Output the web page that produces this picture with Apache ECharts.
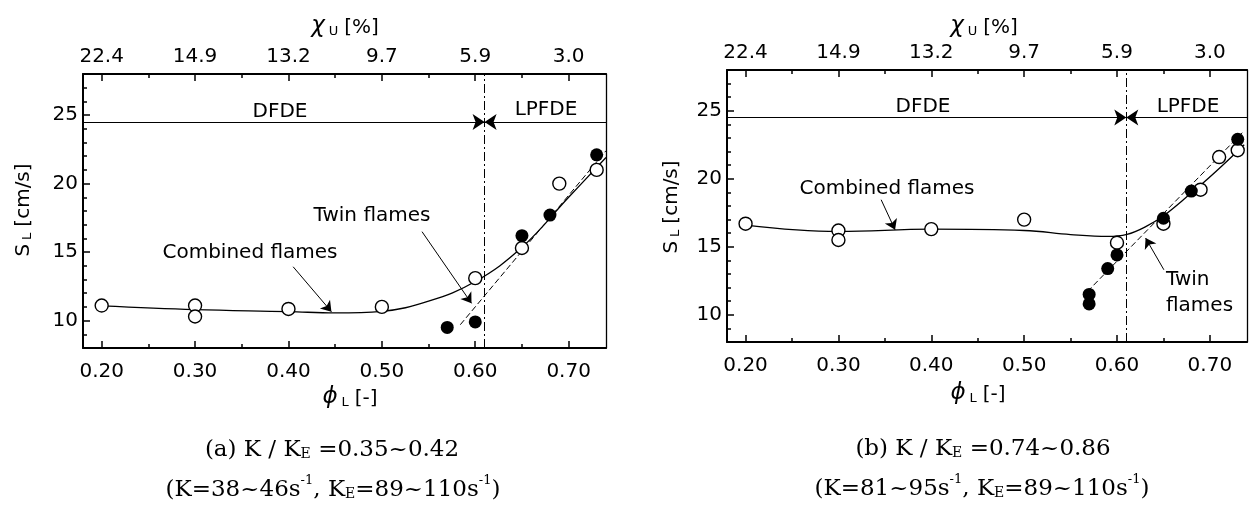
<!DOCTYPE html>
<html>
<head>
<meta charset="utf-8">
<title>S_L vs phi_L</title>
<script src="https://cdn.jsdelivr.net/npm/echarts@6/dist/echarts.min.js"></script>
<style>
  html, body { margin: 0; padding: 0; background: #fff; }
  #main { width: 1249px; height: 509px; }
</style>
</head>
<body>
<div id="main"></div>
<script>
// ticks of the axes
var phiTicks = [0.2, 0.3, 0.4, 0.5, 0.6, 0.7];
var phiMinorTicks = [0.25, 0.35, 0.45, 0.55, 0.65];
var chiTickLabels = ['22.4', '14.9', '13.2', '9.7', '5.9', '3.0'];
var slTicks = [10, 15, 20, 25];
var slMinorTicks = [9, 11, 12, 13, 14, 16, 17, 18, 19, 21, 22, 23, 24, 26, 27];

// DFDE / LPFDE boundary
var boundaryPhi = 0.61;
var regimeSL = 24.5;

// (a) K/KE = 0.35~0.42
var aOpen = [[0.2, 11.1], [0.3, 11.1], [0.3, 10.3], [0.4, 10.85], [0.5, 11.0], [0.6, 13.1], [0.65, 15.3], [0.69, 20.0], [0.73, 21.0]];
var aFilled = [[0.57, 9.5], [0.6, 9.9], [0.65, 16.2], [0.68, 17.7], [0.73, 22.1]];
var aCombined = [[0.2, 11.07], [0.3, 10.8], [0.4, 10.66], [0.45, 10.56], [0.5, 10.68], [0.55, 11.42], [0.6, 12.85], [0.65, 15.35], [0.7, 19.0], [0.74, 21.9]];
var aTwin = [[0.584, 9.7], [0.74, 22.4]];

// (b) K/KE = 0.74~0.86
var bOpen = [[0.2, 16.7], [0.3, 16.2], [0.3, 15.5], [0.4, 16.3], [0.5, 17.0], [0.6, 15.3], [0.65, 16.7], [0.69, 19.2], [0.71, 21.6], [0.73, 22.1]];
var bFilled = [[0.57, 10.8], [0.57, 11.5], [0.59, 13.4], [0.6, 14.4], [0.65, 17.1], [0.68, 19.1], [0.73, 22.9]];
var bCombined = [[0.2, 16.6], [0.3, 16.13], [0.4, 16.3], [0.5, 16.2], [0.55, 15.9], [0.59, 15.76], [0.63, 16.45], [0.68, 18.95], [0.737, 22.5]];
var bTwin = [[0.568, 11.7], [0.735, 23.4]];

var FONT = 'DejaVu Sans';
var SERIF = 'DejaVu Serif';

var xAxes = [], yAxes = [], series = [], graphics = [];

function addAxes(g) {
    xAxes.push({
        gridIndex: g, type: 'value', position: 'bottom', min: 0.18, max: 0.74,
        axisLine: { show: true, onZero: false, lineStyle: { color: '#000', width: 2 } },
        axisTick: { show: true, inside: true, length: 7, customValues: phiTicks, lineStyle: { color: '#000', width: 1.5 } },
        axisLabel: { show: true, customValues: phiTicks, margin: 14, color: '#000', fontFamily: FONT, fontSize: 20,
            formatter: function (v) { return v.toFixed(2); } },
        splitLine: { show: false }
    });
    xAxes.push({
        gridIndex: g, type: 'value', position: 'bottom', min: 0.18, max: 0.74,
        axisLine: { show: false },
        axisTick: { show: true, inside: true, length: 4, customValues: phiMinorTicks, lineStyle: { color: '#000', width: 1.5 } },
        axisLabel: { show: false }, splitLine: { show: false }
    });
    xAxes.push({
        gridIndex: g, type: 'value', position: 'top', min: 0.18, max: 0.74,
        axisLine: { show: true, onZero: false, lineStyle: { color: '#000', width: 2 } },
        axisTick: { show: true, inside: true, length: 7, customValues: phiTicks, lineStyle: { color: '#000', width: 1.5 } },
        axisLabel: { show: true, customValues: phiTicks, margin: 7, color: '#000', fontFamily: FONT, fontSize: 20,
            formatter: function (v) {
                for (var i = 0; i < phiTicks.length; i++) {
                    if (Math.abs(phiTicks[i] - v) < 1e-6) return chiTickLabels[i];
                }
                return '';
            } },
        splitLine: { show: false }
    });
    xAxes.push({
        gridIndex: g, type: 'value', position: 'top', min: 0.18, max: 0.74,
        axisLine: { show: false },
        axisTick: { show: true, inside: true, length: 4, customValues: phiMinorTicks, lineStyle: { color: '#000', width: 1.5 } },
        axisLabel: { show: false }, splitLine: { show: false }
    });

    yAxes.push({
        gridIndex: g, type: 'value', position: 'left', min: 8, max: 28,
        axisLine: { show: true, onZero: false, lineStyle: { color: '#000', width: 2 } },
        axisTick: { show: true, inside: true, length: 7, customValues: slTicks, lineStyle: { color: '#000', width: 1.5 } },
        axisLabel: { show: true, customValues: slTicks, margin: 5, color: '#000', fontFamily: FONT, fontSize: 20 },
        splitLine: { show: false }
    });
    yAxes.push({
        gridIndex: g, type: 'value', position: 'left', min: 8, max: 28,
        axisLine: { show: false },
        axisTick: { show: true, inside: true, length: 4, customValues: slMinorTicks, lineStyle: { color: '#000', width: 1.5 } },
        axisLabel: { show: false }, splitLine: { show: false }
    });
    yAxes.push({
        gridIndex: g, type: 'value', position: 'right', min: 8, max: 28,
        axisLine: { show: true, onZero: false, lineStyle: { color: '#000', width: 1.3 } },
        axisTick: { show: false }, axisLabel: { show: false }, splitLine: { show: false }
    });
}

function arrow(from, to, size) {
    return [
        { coord: from, symbol: 'none', lineStyle: { color: '#000', width: 1, type: 'solid' } },
        { coord: to, symbol: 'arrow', symbolSize: size || 9 }
    ];
}

function addSeries(g, open, filled, combined, twin, notes) {
    var xi = g * 4, yi = g * 3;
    series.push({
        type: 'line', xAxisIndex: xi, yAxisIndex: yi, data: combined, smooth: 0.4,
        showSymbol: false, symbol: 'none', lineStyle: { color: '#000', width: 1.3 }, z: 3
    });
    series.push({
        type: 'line', xAxisIndex: xi, yAxisIndex: yi, data: twin,
        showSymbol: false, symbol: 'none', lineStyle: { color: '#000', width: 1, type: [6, 3] }, z: 3
    });
    series.push({
        type: 'scatter', xAxisIndex: xi, yAxisIndex: yi, data: open, symbol: 'circle', symbolSize: 13,
        itemStyle: { color: '#fff', borderColor: '#000', borderWidth: 1.4, opacity: 1 }, z: 5
    });
    series.push({
        type: 'scatter', xAxisIndex: xi, yAxisIndex: yi, data: filled, symbol: 'circle', symbolSize: 13,
        itemStyle: { color: '#000', opacity: 1 }, z: 6
    });
    // boundary line, regime arrows, label arrows
    series.push({
        type: 'line', xAxisIndex: xi, yAxisIndex: yi, data: [], z: 4,
        markLine: {
            silent: true, animation: false, label: { show: false },
            symbol: ['none', 'none'],
            data: [
                [{ coord: [boundaryPhi, 8], symbol: 'none', lineStyle: { color: '#000', width: 1, type: [9, 3, 2, 3] } },
                 { coord: [boundaryPhi, 28], symbol: 'none' }],
                arrow([0.18, regimeSL], [boundaryPhi, regimeSL], 12),
                arrow([0.74, regimeSL], [boundaryPhi, regimeSL], 12)
            ].concat(notes.map(function (n) { return arrow(n[0], n[1], 10); }))
        }
    });
}

addAxes(0);
addAxes(1);
addSeries(0, aOpen, aFilled, aCombined, aTwin, [
    [[0.405, 13.93], [0.446, 10.65]],
    [[0.543, 16.49], [0.596, 11.26]]
]);
addSeries(1, bOpen, bFilled, bCombined, bTwin, [
    [[0.346, 18.46], [0.361, 16.25]],
    [[0.6505, 13.31], [0.6308, 15.64]]
]);

function txt(x, y, text, rich, opts) {
    opts = opts || {};
    return {
        type: 'text', x: x, y: y, rotation: opts.rotation || 0, z: 10,
        style: {
            text: text, rich: rich, fill: '#000',
            fontFamily: opts.family || FONT, fontSize: opts.size || 20,
            align: opts.align || 'center', textAlign: opts.align || 'center',
            verticalAlign: 'middle', textVerticalAlign: 'middle'
        }
    };
}

var sansRich = {
    n: { fontFamily: FONT, fontSize: 20, lineHeight: 24, verticalAlign: 'bottom' },
    g: { fontFamily: FONT, fontSize: 23, fontStyle: 'italic', lineHeight: 24, verticalAlign: 'bottom' },
    s: { fontFamily: FONT, fontSize: 13, lineHeight: 13, verticalAlign: 'bottom', padding: [0, 6, 0, 4] }
};
var serifRich = {
    n: { fontFamily: SERIF, fontSize: 23, lineHeight: 27, verticalAlign: 'bottom' },
    e: { fontFamily: SERIF, fontSize: 14, lineHeight: 20, verticalAlign: 'bottom' },
    p: { fontFamily: SERIF, fontSize: 13, lineHeight: 13, verticalAlign: 'top' }
};

var panels = [
    { chi: [345, 26], phi: [350, 397], sl: [22, 210], cap1: [332, 448], cap2: [333, 488],
      dfde: [280, 112], lpfde: [546, 110],
      cap1Text: '{n|(a) K / K}{e|E}{n| =0.35~0.42}',
      cap2Text: '{n|(K=38~46s}{p|-1}{n|, K}{e|E}{n|=89~110s}{p|-1}{n|)}' },
    { chi: [984, 26], phi: [978, 393], sl: [670, 207], cap1: [983, 447], cap2: [982, 487],
      dfde: [923, 107], lpfde: [1188, 107],
      cap1Text: '{n|(b) K / K}{e|E}{n| =0.74~0.86}',
      cap2Text: '{n|(K=81~95s}{p|-1}{n|, K}{e|E}{n|=89~110s}{p|-1}{n|)}' }
];

panels.forEach(function (p) {
    graphics.push(txt(p.chi[0], p.chi[1], '{g|χ}{s|U}{n|[%]}', sansRich));
    graphics.push(txt(p.phi[0], p.phi[1], '{g|ϕ}{s|L}{n|[-]}', sansRich));
    graphics.push(txt(p.sl[0], p.sl[1], '{n|S}{s|L}{n|[cm/s]}', sansRich, { rotation: Math.PI / 2 }));
    graphics.push(txt(p.cap1[0], p.cap1[1], p.cap1Text, serifRich, { family: SERIF }));
    graphics.push(txt(p.cap2[0], p.cap2[1], p.cap2Text, serifRich, { family: SERIF }));
    graphics.push(txt(p.dfde[0], p.dfde[1], 'DFDE'));
    graphics.push(txt(p.lpfde[0], p.lpfde[1], 'LPFDE'));
});
graphics.push(txt(250, 253, 'Combined flames'));
graphics.push(txt(372, 216, 'Twin flames'));
graphics.push(txt(887, 189, 'Combined flames'));
graphics.push(txt(1166, 280, 'Twin', null, { align: 'left' }));
graphics.push(txt(1166, 306, 'flames', null, { align: 'left' }));

var chart = echarts.init(document.getElementById('main'), null, { renderer: 'canvas' });
chart.setOption({
    animation: false,
    backgroundColor: '#fff',
    grid: [
        { left: 83, top: 74, width: 523, height: 274, outerBoundsMode: 'none', containLabel: false },
        { left: 727, top: 70, width: 520, height: 272, outerBoundsMode: 'none', containLabel: false }
    ],
    xAxis: xAxes,
    yAxis: yAxes,
    series: series,
    graphic: graphics
});
</script>
</body>
</html>
